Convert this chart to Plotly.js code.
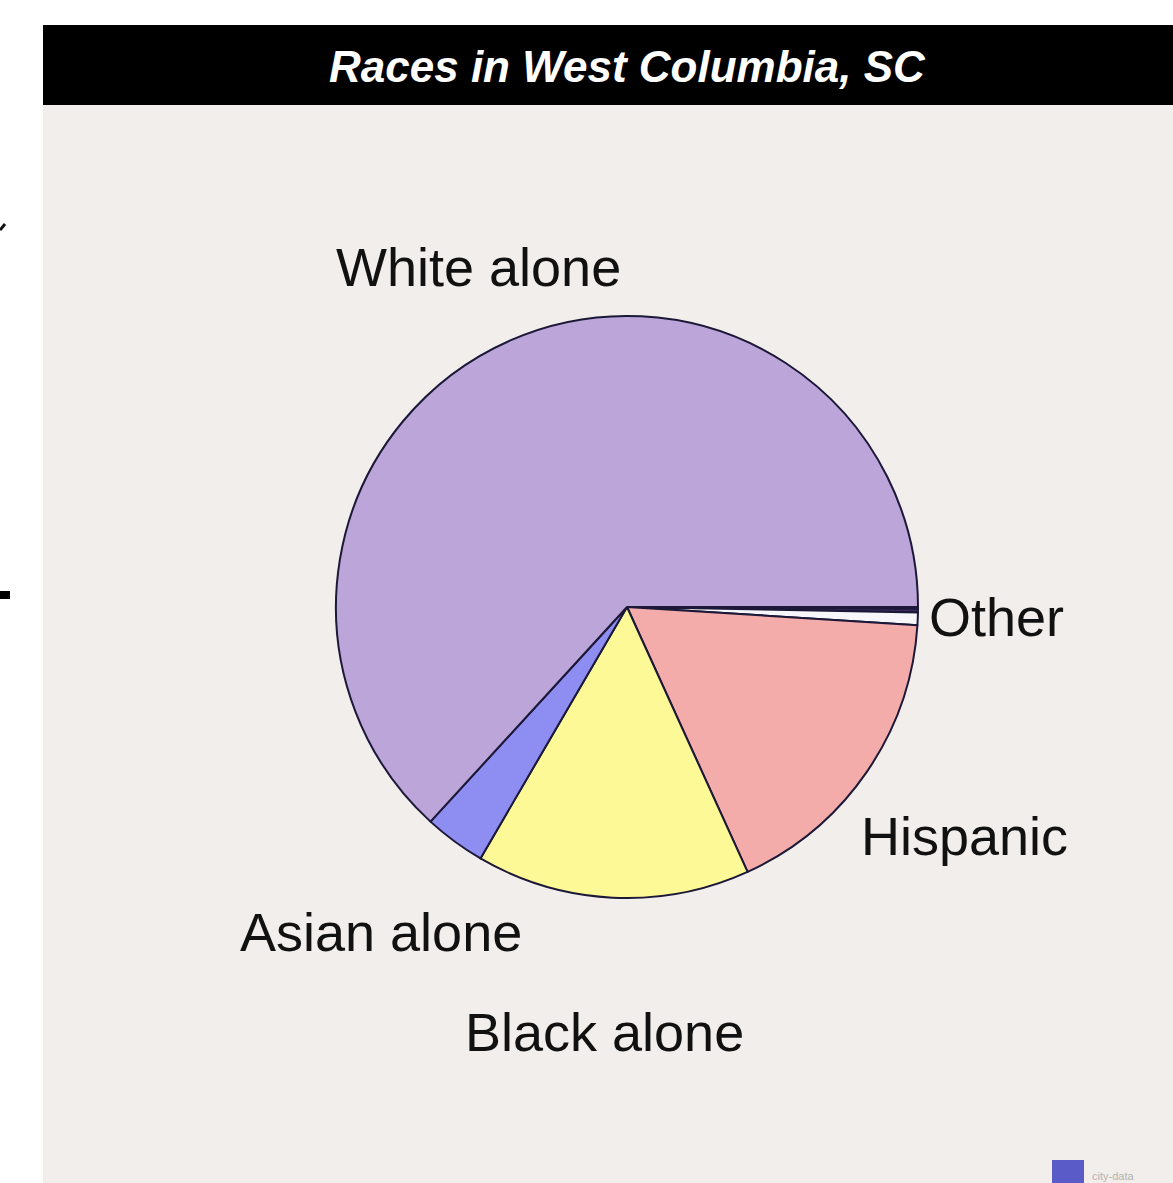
<!DOCTYPE html>
<html>
<head>
<meta charset="utf-8">
<script src="https://cdn.plot.ly/plotly-3.0.1.min.js"></script>
<style>
  html, body { margin: 0; padding: 0; background: #ffffff; }
  #chart { width: 1173px; height: 1183px; }
</style>
</head>
<body>
<div id="chart"></div>
<script>
// Data (percent of population), in drawing order (clockwise from 3 o'clock)
const categories = ["American Indian alone", "Two or more races", "Other", "Hispanic", "Black alone", "Asian alone", "White alone"];
const shares     = [0.1, 0.2, 0.7, 17.2, 15.2, 3.4, 63.2];
const sliceColors = ["#2a1d45", "#3a2a5e", "#f6f6fb", "#f4acab", "#fdf996", "#8d8df2", "#bca5d9"];
const shownLabels = ["White alone", "Asian alone", "Black alone", "Hispanic", "Other"];

const W = 1173, H = 1183;
const cx = 627, cy = 607, r = 291;

const trace = {
  type: "pie",
  labels: categories,
  values: shares,
  sort: false,
  direction: "clockwise",
  rotation: 90,
  textinfo: "none",
  hoverinfo: "label+percent",
  marker: { colors: sliceColors, line: { color: "#1c1838", width: 2 } },
  domain: { x: [(cx - r) / W, (cx + r) / W], y: [(H - cy - r) / H, (H - cy + r) / H] },
  showlegend: false
};

// label positions (pixel centres)
const labelPos = {
  "White alone": [478, 267],
  "Other": [996, 617],
  "Hispanic": [964, 836],
  "Asian alone": [381, 932],
  "Black alone": [604, 1032]
};

const annotations = shownLabels.map(name => ({
  text: name,
  xref: "paper", yref: "paper",
  x: labelPos[name][0] / W, y: 1 - labelPos[name][1] / H,
  xanchor: "center", yanchor: "middle",
  showarrow: false,
  font: { family: "Liberation Sans, Arial, sans-serif", size: 54, color: "#111111" }
}));

annotations.push({
  text: "<b><i>Races in West Columbia, SC</i></b>",
  xref: "paper", yref: "paper",
  x: 627 / W, y: 1 - 66 / H,
  xanchor: "center", yanchor: "middle",
  showarrow: false,
  font: { family: "Liberation Sans, Arial, sans-serif", size: 44, color: "#ffffff" }
});
annotations.push({
  text: "city-data",
  xref: "paper", yref: "paper",
  x: 1090 / W, y: 1 - 1176 / H,
  xanchor: "left", yanchor: "middle",
  showarrow: false,
  font: { family: "Liberation Sans, Arial, sans-serif", size: 11, color: "#b5b3b0" }
});

const shapes = [
  // gray chart panel
  { type: "rect", xref: "paper", yref: "paper", x0: 43 / W, x1: 1, y0: 0, y1: 1 - 105 / H,
    fillcolor: "#f1eeeb", line: { width: 0 }, layer: "below" },
  // black title bar
  { type: "rect", xref: "paper", yref: "paper", x0: 43 / W, x1: 1, y0: 1 - 105 / H, y1: 1 - 25 / H,
    fillcolor: "#000000", line: { width: 0 }, layer: "below" },
  // small logo square
  { type: "rect", xref: "paper", yref: "paper", x0: 1052 / W, x1: 1084 / W, y0: 0, y1: 1 - 1160 / H,
    fillcolor: "#5a5ac8", line: { width: 0 }, layer: "below" },
  // cropped marks at left edge
  { type: "rect", xref: "paper", yref: "paper", x0: 0, x1: 10 / W, y0: 1 - 599 / H, y1: 1 - 591 / H,
    fillcolor: "#000000", line: { width: 0 }, layer: "below" },
  { type: "line", xref: "paper", yref: "paper", x0: 0, x1: 5 / W, y0: 1 - 230 / H, y1: 1 - 224 / H,
    line: { color: "#111111", width: 3 }, layer: "below" }
];

const layout = {
  width: W, height: H,
  margin: { l: 0, r: 0, t: 0, b: 0 },
  paper_bgcolor: "#ffffff",
  plot_bgcolor: "rgba(0,0,0,0)",
  showlegend: false,
  annotations: annotations,
  shapes: shapes
};

Plotly.newPlot("chart", [trace], layout, { displayModeBar: false, staticPlot: true });
</script>
</body>
</html>
